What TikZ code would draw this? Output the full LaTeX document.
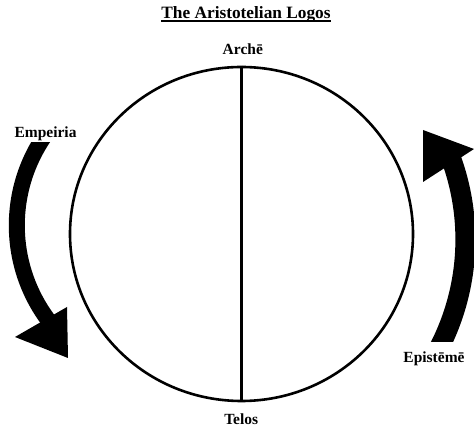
\documentclass[tikz,border=0pt]{standalone}
\usepackage{fontspec}
\setmainfont{Liberation Serif}
\usetikzlibrary{shapes.geometric,calc}
\begin{document}
\begin{tikzpicture}[x=1pt,y=1pt,
  lbl/.style={font=\fontsize{15.5}{18}\selectfont\bfseries, inner sep=0pt, anchor=base},
  ttl/.style={font=\fontsize{17.3}{20}\selectfont\bfseries, inner sep=0pt, anchor=base},
  ring/.style={ellipse, draw, line width=2.6pt, inner sep=0pt},
  axisline/.style={line width=2.2pt},
  head/.style={fill=black}]
\useasboundingbox (0,0) rectangle (474,428);
\fill[white] (0,0) rectangle (474,428);
% circle and axis
\node[ring, minimum width=343pt, minimum height=334pt] (logos) at (241.5,194) {};
\draw[axisline] (logos.north) -- (logos.south);
% title
\node[ttl] (title) at (246,409.7) {The Aristotelian Logos};
\draw[line width=1.3pt] ($(title.base west)+(0,-2.6)$) -- ($(title.base east)+(0,-2.6)$);
% labels
\node[lbl] (arche) at (242.8,373) {Archē};
\node[lbl] (telos) at (241.2,3) {Telos};
\node[lbl] (empeiria) at (45.5,290.3) {Empeiria};
\node[lbl] (episteme) at (434,65.7) {Epistēmē};
% left arrow (Empeiria)
\coordinate (lc) at (175,202.55);
\begin{scope}
  \clip (0,0) rectangle (474,285);
  \draw[line width=16pt] (lc) ++(145:158.2pt) arc[start angle=145, end angle=222, radius=158.2pt];
\end{scope}
\fill[head] (67,121) -- (15,91) -- (68,70) -- cycle;
% right arrow (Episteme)
\coordinate (rc) at (229,188.5);
\begin{scope}
  \clip (0,86) rectangle (474,428);
  \draw[line width=20pt] (rc) ++(-30:236.4pt) arc[start angle=-30, end angle=22, radius=236.4pt];
\end{scope}
\fill[head] (423,298) -- (474,279) -- (423,246) -- cycle;
\end{tikzpicture}
\end{document}
